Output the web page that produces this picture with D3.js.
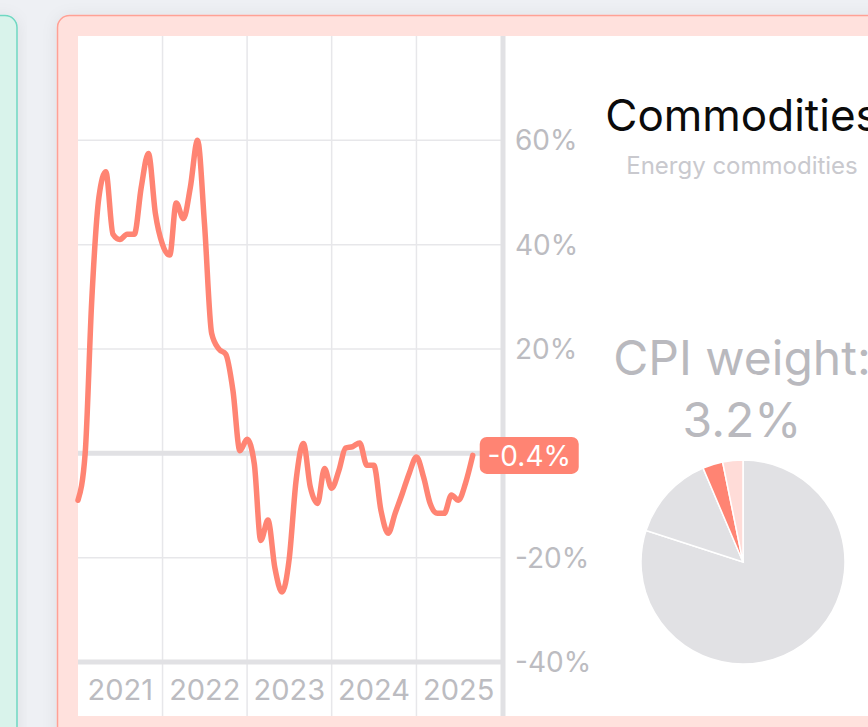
<!DOCTYPE html>
<html>
<head>
<meta charset="utf-8">
<script src="https://cdn.jsdelivr.net/npm/d3@7"></script>
<style>
  html, body { margin: 0; padding: 0; background: #eef0f4; overflow: hidden; }
  svg { display: block; font-family: "Inter", "Noto Sans", sans-serif; }
</style>
</head>
<body>
<svg id="chart" width="868" height="727"></svg>
<script>
// monthly year-over-year change, Jan 2021 onwards (%)
const startMonth = new Date(2021, 0, 1);
const yoyChange = [
  -9, 0, 29, 49, 54, 42, 41, 42, 42, 51, 57.5, 46,
  40, 38, 48, 45, 51, 60, 44, 23, 20, 19, 12, 0.5,
  2.7, -2, -16.7, -12.8, -22, -26.6, -20.5, -5, 1.9, -6.5, -9.6, -2.9,
  -6.7, -3.3, 1, 1.3, 2, -2.3, -2.3, -11, -15.3, -11.5, -7.7, -3.8,
  -0.7, -4.6, -9.6, -11.5, -11.5, -8, -9, -5.7, -0.4
];
const yearLabels = ["2021", "2022", "2023", "2024", "2025"];
const yTicks = [-40, -20, 0, 20, 40, 60];

const title = "Commodities";
const subtitle = "Energy commodities";
const weightLabel = "CPI weight:";
const weightValue = "3.2%";
const pieLabels = ["Other", "Other group", "Energy commodities", "Energy services"];
const pieValues = [80, 13.6, 3.2, 3.2];

const svg = d3.select("#chart");
const salmon = "#ff8473";
const gridColor = "#e7e7ea";
const axisColor = "#e1e1e4";
const labelColor = "#bcbcc1";

// cards
const defs = svg.append("defs");
const shadow = defs.append("filter").attr("id", "shadow")
  .attr("x", "-20%").attr("y", "-20%").attr("width", "140%").attr("height", "140%");
shadow.append("feDropShadow").attr("dx", 0).attr("dy", 2).attr("stdDeviation", 8)
  .attr("flood-color", "#000").attr("flood-opacity", 0.07);

svg.append("rect")
  .attr("x", -30).attr("y", 15.5).attr("width", 47).attr("height", 800).attr("rx", 12)
  .attr("fill", "#d9f3eb").attr("stroke", "#6fd8c2").attr("stroke-width", 1.5)
  .attr("filter", "url(#shadow)");
svg.append("rect")
  .attr("x", 57.5).attr("y", 15.5).attr("width", 900).attr("height", 800).attr("rx", 12)
  .attr("fill", "#ffe1dd").attr("stroke", "#ffa195").attr("stroke-width", 1.5)
  .attr("filter", "url(#shadow)");
svg.append("rect")
  .attr("x", 78).attr("y", 36).attr("width", 900).attr("height", 680)
  .attr("fill", "#fff");

// scales
const data = yoyChange.map((v, i) => ({ date: d3.timeMonth.offset(startMonth, i), value: v }));
const xScale = d3.scaleTime()
  .domain([new Date(2021, 0, 1), new Date(2026, 0, 1)])
  .range([78, 501]);
const yScale = d3.scaleLinear().domain([-40, 80]).range([662, 36]);
const plotTop = 36, bandBottom = 716;

const chartArea = svg.append("g").attr("id", "chartArea");

// vertical year gridlines (through the label band)
const yearStarts = yearLabels.map((y) => new Date(+y, 0, 1));
chartArea.selectAll(".vgrid")
  .data(yearStarts.slice(1))
  .join("line")
  .attr("class", "vgrid")
  .attr("x1", (d) => xScale(d)).attr("x2", (d) => xScale(d))
  .attr("y1", plotTop).attr("y2", bandBottom)
  .attr("stroke", gridColor).attr("stroke-width", 1.5);

// horizontal gridlines
chartArea.selectAll(".hgrid")
  .data(yTicks.filter((d) => d !== 0 && d !== -40))
  .join("line")
  .attr("class", "hgrid")
  .attr("x1", xScale.range()[0]).attr("x2", xScale.range()[1])
  .attr("y1", (d) => yScale(d)).attr("y2", (d) => yScale(d))
  .attr("stroke", gridColor).attr("stroke-width", 1.5);

// zero line and bottom line
chartArea.selectAll(".hbold")
  .data([0, -40])
  .join("line")
  .attr("class", "hbold")
  .attr("x1", xScale.range()[0]).attr("x2", 503)
  .attr("y1", (d) => yScale(d)).attr("y2", (d) => yScale(d))
  .attr("stroke", axisColor).attr("stroke-width", 5);

// right axis line
chartArea.append("line")
  .attr("x1", 503).attr("x2", 503)
  .attr("y1", plotTop).attr("y2", bandBottom)
  .attr("stroke", axisColor).attr("stroke-width", 5);

// y tick labels (0% sits under the last-value badge)
chartArea.selectAll(".ylabel")
  .data(yTicks.filter((d) => d !== 0))
  .join("text")
  .attr("class", "ylabel")
  .attr("x", 515)
  .attr("y", (d) => yScale(d))
  .attr("dy", "0.36em")
  .attr("fill", labelColor)
  .style("font-size", "28px")
  .text((d) => d + "%");

// year labels, centred in each year band
chartArea.selectAll(".xlabel")
  .data(yearLabels)
  .join("text")
  .attr("class", "xlabel")
  .attr("x", (d) => (xScale(new Date(+d, 0, 1)) + xScale(new Date(+d + 1, 0, 1))) / 2)
  .attr("y", 690)
  .attr("dy", "0.36em")
  .attr("text-anchor", "middle")
  .attr("fill", labelColor)
  .style("font-size", "29px")
  .text((d) => d);

// the line
const line = d3.line()
  .x((d) => xScale(d.date))
  .y((d) => yScale(d.value))
  .curve(d3.curveMonotoneX);
chartArea.append("path")
  .datum(data)
  .attr("d", line)
  .attr("fill", "none")
  .attr("stroke", salmon)
  .attr("stroke-width", 5.5)
  .attr("stroke-linejoin", "round")
  .attr("stroke-linecap", "round");

// last value badge
const last = data[data.length - 1];
const badge = chartArea.append("g")
  .attr("transform", `translate(${xScale(last.date) + 7},${yScale(last.value)})`);
badge.append("rect")
  .attr("x", 0).attr("y", -18.5).attr("width", 99).attr("height", 37).attr("rx", 7)
  .attr("fill", salmon);
badge.append("text")
  .attr("x", 49.5).attr("y", 0).attr("dy", "0.36em")
  .attr("text-anchor", "middle")
  .attr("fill", "#fff")
  .style("font-size", "28px")
  .text(last.value.toFixed(1) + "%");

// right side: titles
const cx = 742;
svg.append("text")
  .attr("x", cx).attr("y", 131)
  .attr("text-anchor", "middle")
  .attr("fill", "#0b0b0b")
  .style("font-size", "44px")
  .text(title);
svg.append("text")
  .attr("x", cx).attr("y", 174)
  .attr("text-anchor", "middle")
  .attr("fill", "#c9c9ce")
  .style("font-size", "24px")
  .text(subtitle);
svg.append("text")
  .attr("x", cx).attr("y", 375)
  .attr("text-anchor", "middle")
  .attr("fill", "#b9b9be")
  .style("font-size", "48px")
  .text(weightLabel);
svg.append("text")
  .attr("x", cx).attr("y", 437)
  .attr("text-anchor", "middle")
  .attr("fill", "#b9b9be")
  .style("font-size", "48px")
  .text(weightValue);

// pie
const pieColors = d3.scaleOrdinal().domain(pieLabels)
  .range(["#e1e1e4", "#e1e1e4", salmon, "#ffdcd8"]);
const pie = d3.pie().sort(null).value((d) => d.value);
const arc = d3.arc().innerRadius(0).outerRadius(102);
const pieData = pieLabels.map((l, i) => ({ label: l, value: pieValues[i] }));
svg.append("g")
  .attr("transform", "translate(743,562)")
  .selectAll("path")
  .data(pie(pieData))
  .join("path")
  .attr("d", arc)
  .attr("fill", (d) => pieColors(d.data.label))
  .attr("stroke", "#fff")
  .attr("stroke-width", 1.5);
</script>
</body>
</html>
